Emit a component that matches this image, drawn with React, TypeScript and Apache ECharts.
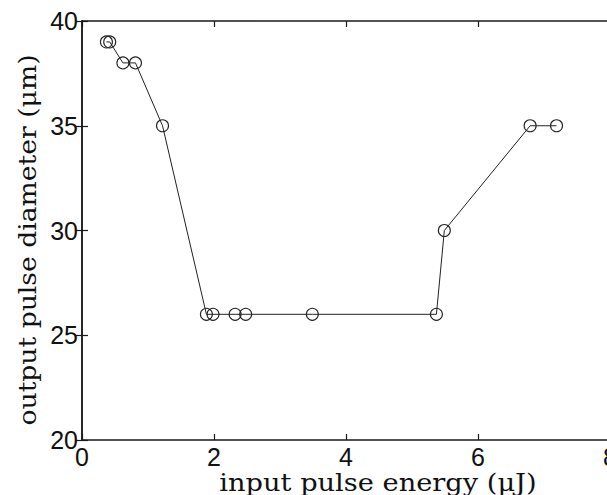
import React, { useEffect, useRef } from "react";
import * as echarts from "echarts";

const energy = [0.37, 0.42, 0.62, 0.81, 1.22, 1.885, 1.985, 2.32, 2.48, 3.49, 5.37, 5.49, 6.79, 7.19];
const diameter = [39, 39, 38, 38, 35, 26, 26, 26, 26, 26, 26, 30, 35, 35];
const xTitle = "input pulse energy (\u03bcJ)";
const yTitle = "output pulse diameter (\u03bcm)";

export default function App() {
  const ref = useRef<HTMLDivElement>(null);
  useEffect(() => {
    if (!ref.current) return;
    const chart = echarts.init(ref.current, undefined, { renderer: "svg" });
    const axisLine = { show: true, lineStyle: { color: "#1a1a1a", width: 1.5 } };
    const tick = { show: true, inside: true, length: 6, lineStyle: { color: "#1a1a1a", width: 1.2 } };
    const labelFont = { fontFamily: "Liberation Sans", fontSize: 25, color: "#111" };
    chart.setOption({
      animation: false,
      backgroundColor: "#fff",
      grid: { left: 82, top: 21, right: 10, bottom: 55 },
      xAxis: [
        {
          type: "value", min: 0, max: 8, interval: 2, position: "bottom",
          axisLine, axisTick: tick, splitLine: { show: false },
          axisLabel: { ...labelFont, margin: 4 },
        },
        {
          type: "value", min: 0, max: 8, interval: 2, position: "top",
          axisLine, axisTick: tick, splitLine: { show: false }, axisLabel: { show: false },
        },
      ],
      yAxis: [
        {
          type: "value", min: 20, max: 40, interval: 5, position: "left",
          axisLine, axisTick: tick, splitLine: { show: false },
          axisLabel: { ...labelFont, margin: 4 },
        },
        {
          type: "value", min: 20, max: 40, interval: 5, position: "right",
          axisLine, axisTick: tick, splitLine: { show: false }, axisLabel: { show: false },
        },
      ],
      graphic: [
        {
          type: "text", x: 378, y: 482, scaleX: 1.09,
          style: { text: xTitle, font: '25px "DejaVu Serif"', fill: "#111", align: "center", verticalAlign: "middle" },
        },
        {
          type: "text", x: 27, y: 240, rotation: Math.PI / 2, scaleX: 1.065,
          style: { text: yTitle, font: '25px "DejaVu Serif"', fill: "#111", align: "center", verticalAlign: "middle" },
        },
      ],
      series: [
        {
          type: "line",
          data: energy.map((e, i) => [e, diameter[i]]),
          symbol: "circle",
          symbolSize: 12,
          lineStyle: { color: "#222", width: 1 },
          itemStyle: { color: "rgba(0,0,0,0)", borderColor: "#222", borderWidth: 1.1 },
        },
      ],
    });
    return () => chart.dispose();
  }, []);
  return (
    <div style={{ position: "absolute", left: 0, top: 0, width: 607, height: 495, overflow: "hidden", background: "#fff" }}>
      <div ref={ref} style={{ width: 620, height: 495 }} />
    </div>
  );
}
